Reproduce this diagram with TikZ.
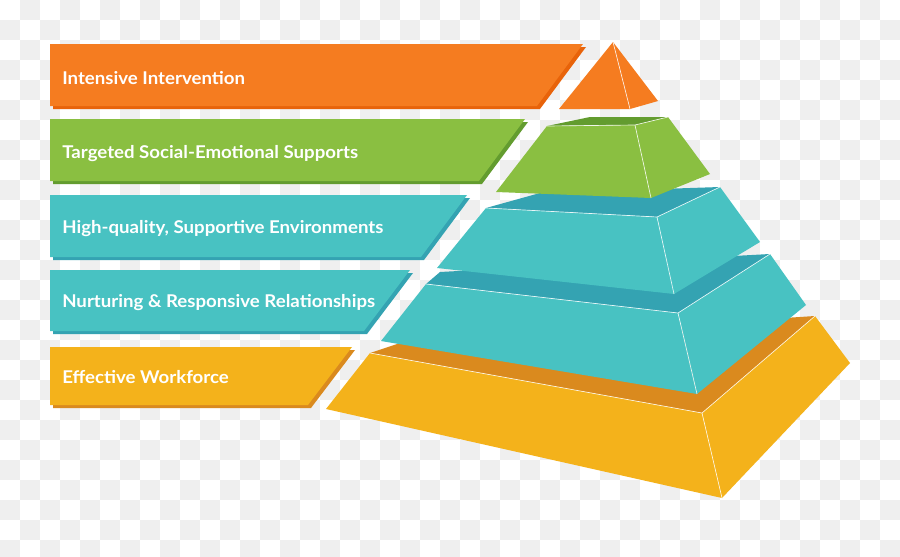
\documentclass[tikz,border=0pt]{standalone}
\usepackage{fontspec}
\newfontfamily\lato[FakeStretch=1.06]{Lato}
\definecolor{c1}{RGB}{245,124,32}
\definecolor{c1d}{RGB}{232,99,10}
\definecolor{c2}{RGB}{138,191,65}
\definecolor{c2d}{RGB}{99,156,47}
\definecolor{c3}{RGB}{72,194,194}
\definecolor{c3d}{RGB}{52,163,178}
\definecolor{c4}{RGB}{244,178,27}
\definecolor{c4d}{RGB}{218,138,30}
\definecolor{chk}{RGB}{239,239,239}

\begin{document}
\begin{tikzpicture}[
    x=0.75pt, y=-0.75pt,
    lbl/.style={anchor=base west, inner sep=0pt, text=white, font=\lato\fontsize{13.2}{15}\selectfont\bfseries},
    edge/.style={white, line width=0.5pt, opacity=0.85},
    shadow/.style={shift={(3,3)}}
]
    \useasboundingbox (0,0) rectangle (900,557);

    % Transparency checkerboard
    \fill[white] (0,0) rectangle (900,557);
    \foreach \i in {0,2,...,44}
        \foreach \j in {1,3,...,27}
            \fill[chk] (20*\i,20*\j) rectangle ++(20,20);
    \foreach \i in {1,3,...,43}
        \foreach \j in {0,2,...,26}
            \fill[chk] (20*\i,20*\j) rectangle ++(20,20);

    % Label bars
    \fill[c1d, shadow] (50,44) -- (583,44) -- (537,106) -- (50,106) -- cycle;
    \fill[c1] (50,44) -- (583,44) -- (537,106) -- (50,106) -- cycle;
    \node[lbl] (t1) at (62,84) {Intensive Intervention};

    \fill[c2d, shadow] (50,119) -- (525,119) -- (479,181) -- (50,181) -- cycle;
    \fill[c2] (50,119) -- (525,119) -- (479,181) -- (50,181) -- cycle;
    \node[lbl] (t2) at (62,158) {Targeted Social-Emotional Supports};

    \fill[c3d, shadow] (50,195) -- (467,195) -- (421,257) -- (50,257) -- cycle;
    \fill[c3] (50,195) -- (467,195) -- (421,257) -- (50,257) -- cycle;
    \node[lbl] (t3) at (62,233) {High-quality, Supportive Environments};

    \fill[c3d, shadow] (50,270) -- (410,270) -- (364,331) -- (50,331) -- cycle;
    \fill[c3] (50,270) -- (410,270) -- (364,331) -- (50,331) -- cycle;
    \node[lbl] (t4) at (62,307) {Nurturing \& Responsive Relationships};

    \fill[c4d, shadow] (50,347) -- (352,347) -- (308,405) -- (50,405) -- cycle;
    \fill[c4] (50,347) -- (352,347) -- (308,405) -- (50,405) -- cycle;
    \node[lbl] (t5) at (62,383) {Effective Workforce};

    % Base layer
    \fill[c4d] (370,353) -- (400,343) -- (815,316) -- (702,413) -- cycle;
    \fill[c4] (370,353) -- (702,413) -- (722,498) -- (326,409) -- cycle;
    \fill[c4] (702,413) -- (815,316) -- (850,363) -- (722,498) -- cycle;
    \draw[edge] (370,353) -- (702,413) -- (815,316);
    \draw[edge] (702,413) -- (722,498);

    % Lower teal layer
    \fill[c3d] (426,284) -- (440,272) -- (770,254) -- (678,313) -- cycle;
    \fill[c3] (426,284) -- (678,313) -- (697,394) -- (381,341) -- cycle;
    \fill[c3] (678,313) -- (770,254) -- (806,305) -- (697,394) -- cycle;
    \draw[edge] (426,284) -- (678,313) -- (770,254);
    \draw[edge] (678,313) -- (697,394);

    % Upper teal layer
    \fill[c3d] (486,208) -- (540,193) -- (720,187) -- (657,217) -- cycle;
    \fill[c3] (486,208) -- (657,217) -- (674,294) -- (437,268) -- cycle;
    \fill[c3] (657,217) -- (720,187) -- (760,242) -- (674,294) -- cycle;
    \draw[edge] (486,208) -- (657,217) -- (720,187);
    \draw[edge] (657,217) -- (674,294);

    % Green layer
    \fill[c2d] (547,126) -- (590,117) -- (668,117) -- (635,125) -- cycle;
    \fill[c2] (547,126) -- (635,125) -- (651,198) -- (496,192) -- cycle;
    \fill[c2] (635,125) -- (668,117) -- (710,174) -- (651,198) -- cycle;
    \draw[edge] (547,126) -- (635,125) -- (668,117);
    \draw[edge] (635,125) -- (651,198);

    % Top
    \fill[c1] (613,42) -- (559,109) -- (630,109) -- cycle;
    \fill[c1] (613,42) -- (630,109) -- (658,101) -- cycle;
    \draw[edge] (613,42) -- (630,109);
\end{tikzpicture}
\end{document}
